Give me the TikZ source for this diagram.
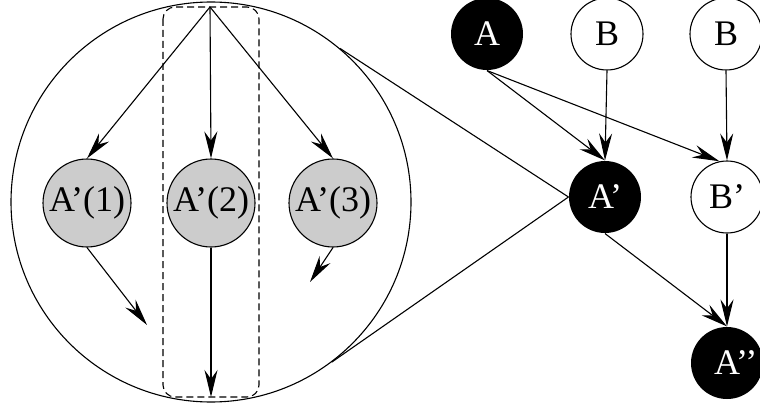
\documentclass[tikz,border=0pt]{standalone}
\usepackage{fontspec}
\setmainfont{Liberation Serif}
\usetikzlibrary{arrows.meta}
\begin{document}
\begin{tikzpicture}[x=1pt,y=-1pt,
  line width=1.1pt,
  arr/.style={-{Stealth[length=27pt,width=13pt,inset=9pt]}},
  lbl/.style={font=\fontsize{36}{40}\selectfont},
  blacknode/.style={circle,fill=black,text=white,minimum size=72pt,inner sep=0pt,lbl},
  whitenode/.style={circle,draw=black,fill=white,minimum size=72pt,inner sep=0pt,lbl},
  graynode/.style={circle,draw=black,fill=black!20,minimum size=88pt,inner sep=0pt,lbl},
  lensbox/.style={draw,dash pattern=on 7pt off 4pt,rounded corners=12pt}]
\useasboundingbox (0,0) rectangle (760,409);

% magnified view of A'
\node[circle,draw,minimum size=400pt,inner sep=0pt] (lens) at (211,202) {};
\draw[lensbox] (163,7) rectangle (259,397);
\coordinate (top) at (210,7);
\node[graynode] (a1) at (87,203) {A'(1)};
\node[graynode] (a2) at (211,203) {A'(2)};
\node[graynode] (a3) at (333,203) {A'(3)};
\coordinate (o1) at (147,325);
\coordinate (o2) at (211,397);
\coordinate (o3) at (310,282);
\draw[arr] (top) -- (a1.north);
\draw[arr] (top) -- (a2.north);
\draw[arr] (top) -- (a3.north);
\draw[arr] (a1.south) -- (o1);
\draw[arr] (a2.south) -- (o2);
\draw[arr] (a3.south) -- (o3);

% network
\node[blacknode] (A) at (487,34) {A};
\node[whitenode] (B1) at (607,34) {B};
\node[whitenode] (B2) at (726,34) {B};
\node[blacknode] (Ap) at (605,197) {A'};
\node[whitenode] (Bp) at (727,197) {B'};
\node[blacknode,text width=50pt,align=right] (App) at (727,363) {\hspace*{12pt}A'{}'};
\draw[arr] (A.south) -- (Ap.north);
\draw[arr] (A.south) -- (Bp.102);
\draw[arr] (B1.south) -- (Ap.north);
\draw[arr] (B2.south) -- (Bp.north);
\draw[arr] (Ap.south) -- (App.north);
\draw[arr] (Bp.south) -- (App.north);

% zoom lines
\draw (Ap.west) -- (lens.50);
\draw (Ap.west) -- (lens.-53);
\end{tikzpicture}
\end{document}
